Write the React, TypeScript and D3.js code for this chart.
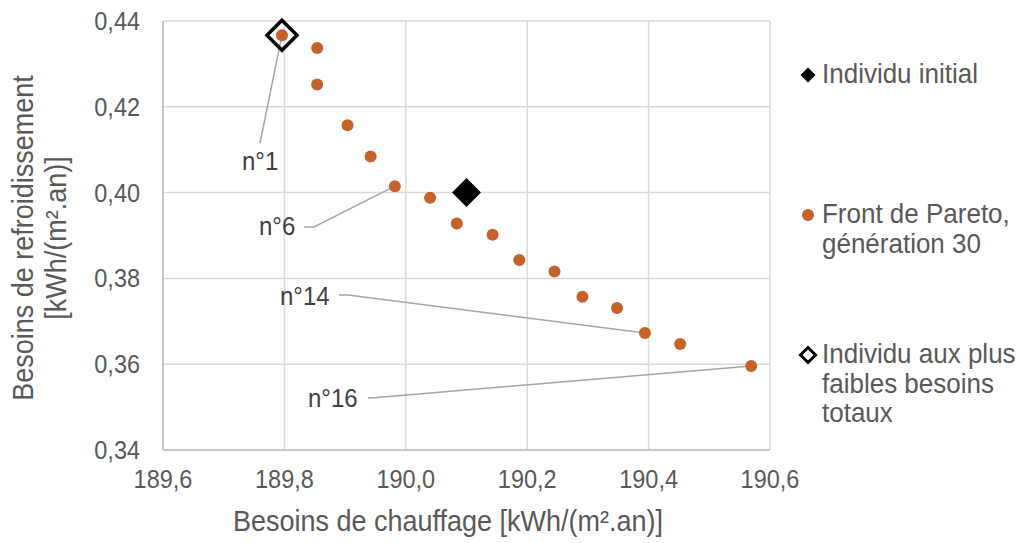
import React from "react";
import * as d3 from "d3";

// ---- data ----
const paretoX = [189.796, 189.854, 189.854, 189.904, 189.942, 189.982, 190.040, 190.084, 190.143, 190.187, 190.245, 190.291, 190.348, 190.394, 190.452, 190.569];
const paretoY = [0.4367, 0.4337, 0.4252, 0.4157, 0.4084, 0.4015, 0.3988, 0.3928, 0.3902, 0.3843, 0.3816, 0.3757, 0.3731, 0.3673, 0.3647, 0.3596];
const initialX = [190.1];
const initialY = [0.4];
const bestIndex = [0];
const xTicks = [189.6, 189.8, 190.0, 190.2, 190.4, 190.6];
const yTicks = [0.34, 0.36, 0.38, 0.40, 0.42, 0.44];
const labelIndex = [0, 5, 13, 15];
const labelText = ["n°1", "n°6", "n°14", "n°16"];
const legendLabels = [["Individu initial"], ["Front de Pareto,", "génération 30"], ["Individu aux plus", "faibles besoins", "totaux"]];

// ---- layout ----
const W = 1023, H = 543;
const plot = { left: 163, right: 770, top: 21, bottom: 450 };
const orange = "#C5622A";
const textCol = "#595959";
const gridCol = "#D9D9D9";
const leaderCol = "#A6A6A6";
const FONT = "'Liberation Sans', Arial, sans-serif";
const STRETCH = 1.08;
const labelLayout = [
  { tx: 242, ty: 170, path: [[260, 143]] },
  { tx: 259, ty: 235, path: [[304, 227], [314, 227]] },
  { tx: 280, ty: 305, path: [[339, 295], [348, 295]] },
  { tx: 308, ty: 407, path: [[368, 398], [377, 397.5]] },
];
const legendY = [75, 215, 355];

function T({ x, y, size, fill, anchor, children, rotate }: any) {
  const tr = `${rotate ? "rotate(-90) " : ""}translate(${x},${y}) scale(1,${STRETCH})`;
  return (
    <text transform={tr} fontSize={size} fill={fill} textAnchor={anchor || "start"}>
      {children}
    </text>
  );
}

export default function App() {
  const x = d3.scaleLinear().domain([189.6, 190.6]).range([plot.left, plot.right]);
  const y = d3.scaleLinear().domain([0.34, 0.44]).range([plot.bottom, plot.top]);
  const fmtX = (v: number) => v.toFixed(1).replace(".", ",");
  const fmtY = (v: number) => v.toFixed(2).replace(".", ",");
  const diamond = (cx: number, cy: number, r: number) =>
    `M${cx},${cy - r}L${cx + r},${cy}L${cx},${cy + r}L${cx - r},${cy}Z`;
  const line = d3.line();

  return (
    <svg width={W} height={H} style={{ position: "absolute", left: 0, top: 0, background: "#fff" }} fontFamily={FONT}>
      {/* grid */}
      {xTicks.map((t, i) => (
        <line key={"gx" + i} x1={x(t)} x2={x(t)} y1={plot.top} y2={plot.bottom} stroke={gridCol} strokeWidth={1.5} />
      ))}
      {yTicks.map((t, i) => (
        <line key={"gy" + i} x1={plot.left} x2={plot.right} y1={y(t)} y2={y(t)} stroke={gridCol} strokeWidth={1.5} />
      ))}
      <line x1={plot.left} x2={plot.right} y1={plot.bottom} y2={plot.bottom} stroke="#BFBFBF" strokeWidth={1.5} />
      <line x1={plot.left} x2={plot.left} y1={plot.top} y2={plot.bottom} stroke="#BFBFBF" strokeWidth={1.5} />

      {/* tick labels */}
      {xTicks.map((t, i) => (
        <T key={"tx" + i} x={x(t)} y={488} anchor="middle" size={23.5} fill={textCol}>{fmtX(t)}</T>
      ))}
      {yTicks.map((t, i) => (
        <T key={"ty" + i} x={140} y={y(t) + 9} anchor="end" size={23.5} fill={textCol}>{fmtY(t)}</T>
      ))}

      {/* axis titles */}
      <T x={448} y={531} anchor="middle" size={27} fill={textCol}>Besoins de chauffage [kWh/(m².an)]</T>
      <T rotate x={-238} y={33} anchor="middle" size={27} fill={textCol}>Besoins de refroidissement</T>
      <T rotate x={-238} y={66} anchor="middle" size={27} fill={textCol}>[kWh/(m².an)]</T>

      {/* leader lines */}
      {labelIndex.map((pi, i) => {
        const pts: [number, number][] = [
          ...(labelLayout[i].path as [number, number][]),
          [x(paretoX[pi]), y(paretoY[pi])],
        ];
        return <path key={"ll" + i} d={line(pts) || ""} fill="none" stroke={leaderCol} strokeWidth={1.5} />;
      })}

      {/* pareto points */}
      {paretoX.map((px, i) => (
        <circle key={"p" + i} cx={x(px)} cy={y(paretoY[i])} r={6} fill={orange} />
      ))}

      {/* initial individual */}
      {initialX.map((ix, i) => (
        <path key={"ini" + i} d={diamond(x(ix), y(initialY[i]), 14.5)} fill="#000" />
      ))}

      {/* best individual */}
      {bestIndex.map((bi, i) => (
        <path key={"best" + i} d={diamond(x(paretoX[bi]), y(paretoY[bi]), 15)} fill="none" stroke="#000" strokeWidth={3.5} />
      ))}

      {/* data labels */}
      {labelText.map((t, i) => (
        <T key={"lt" + i} x={labelLayout[i].tx} y={labelLayout[i].ty} size={24} fill="#404040">{t}</T>
      ))}

      {/* legend */}
      <path d={diamond(808, legendY[0], 7.5)} fill="#000" />
      <circle cx={808} cy={legendY[1]} r={6} fill={orange} />
      <path d={diamond(808, legendY[2], 7.5)} fill="#fff" stroke="#000" strokeWidth={3} />
      {legendLabels.map((lines, i) =>
        lines.map((l, j) => (
          <T key={"lg" + i + "-" + j} x={822} y={legendY[i] + 8 + j * 29.5} size={26} fill={textCol}>{l}</T>
        ))
      )}
    </svg>
  );
}
